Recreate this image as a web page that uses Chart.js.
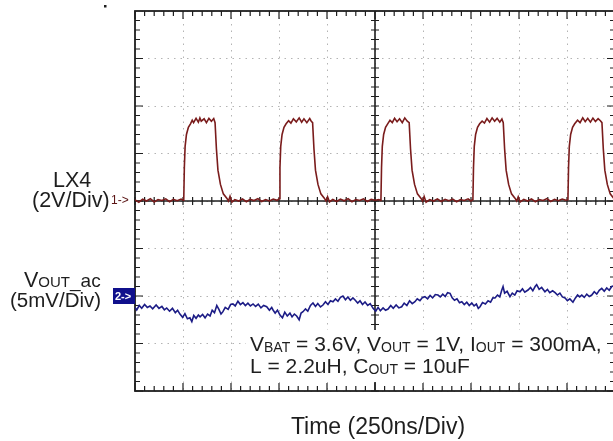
<!DOCTYPE html>
<html>
<head>
<meta charset="utf-8">
<script src="https://cdn.jsdelivr.net/npm/chart.js@4.4.1/dist/chart.umd.min.js"></script>
<style>
  html, body { margin: 0; padding: 0; background: #fff; overflow: hidden; }
  #wrap { width: 613px; height: 441px; overflow: hidden; position: relative; }
  #box { width: 630px; height: 441px; position: absolute; left: 0; top: 0; }
</style>
</head>
<body>
<div id="wrap"><div id="box"><canvas id="scope"></canvas></div></div>
<script>
// time axis: 10 divisions of 250 ns
const timeTicks = [0, 250, 500, 750, 1000, 1250, 1500, 1750, 2000, 2250, 2500];
// CH1 (LX4) axis in volts, 2V/div, 8 divisions
const voltTicks = [-8, -6, -4, -2, 0, 2, 4, 6, 8];
// CH2 (Vout ac) axis in mV, 5mV/div, reference sits 2 div below centre
const mvRange = [-10, 30];

// LX4 switching node, [time ns, volts]
const lx4Trace = [
  [0,0.05],[20,-0.05],[40,0.08],[60,0],[80,0.1],[100,-0.04],[120,0.06],[140,0.02],[160,0.09],[180,-0.03],[200,0.07],[220,0.01],[240,0.08],[252,0.03],
  [254,0.1],[257,1.4],[261,2.3],[268,2.8],[278,3.1],[289,3.25],[298,3.4],[305,3.3],[318,3.48],[330,3.32],[338,3.5],[345,3.36],[360,3.46],[372,3.3],[385,3.48],[398,3.36],[410,3.47],
  [417,3.3],[424,2.2],[432,1.3],[445,0.7],[460,0.3],[478,0.12],[487,0.0],[495,0.2],[505,-0.05],[520,0.06],[540,0.0],[560,0.09],[580,-0.03],[600,0.07],[620,0.02],[640,0.1],[660,-0.02],[680,0.06],[700,0.0],[720,0.08],[740,0.03],
  [752,0.1],[755,1.4],[759,2.3],[766,2.8],[776,3.1],[787,3.25],[800,3.38],[812,3.28],[825,3.46],[840,3.33],[855,3.5],[868,3.32],[880,3.46],[895,3.3],[910,3.47],[918,3.36],
  [925,3.3],[932,2.2],[940,1.3],[953,0.7],[968,0.3],[986,0.12],[995,0.0],[1003,0.18],[1013,-0.04],[1030,0.07],[1050,-0.02],[1070,0.08],[1090,0.01],[1110,0.1],[1130,-0.03],[1150,0.06],[1170,0.02],[1190,0.09],[1210,-0.02],[1230,0.07],[1250,0.03],[1270,0.06],[1279,0.02],
  [1281,0.1],[1284,1.4],[1288,2.3],[1295,2.8],[1305,3.1],[1316,3.25],[1328,3.4],[1340,3.3],[1352,3.48],[1365,3.34],[1378,3.46],[1392,3.3],[1405,3.5],[1418,3.36],
  [1428,3.3],[1435,2.2],[1443,1.3],[1456,0.7],[1471,0.3],[1489,0.12],[1498,0.0],[1506,0.19],[1516,-0.05],[1535,0.06],[1555,0.0],[1575,0.09],[1595,-0.02],[1615,0.07],[1635,0.01],[1655,0.08],[1675,-0.03],[1695,0.06],[1715,0.02],[1735,0.09],[1750,0.0],[1758,0.05],
  [1760,0.1],[1763,1.4],[1767,2.3],[1774,2.8],[1784,3.1],[1795,3.25],[1808,3.36],[1820,3.28],[1833,3.47],[1847,3.32],[1860,3.5],[1873,3.36],[1886,3.48],[1900,3.32],[1911,3.45],
  [1918,3.3],[1925,2.2],[1933,1.3],[1946,0.7],[1961,0.3],[1979,0.12],[1988,0.0],[1996,0.18],[2006,-0.04],[2025,0.07],[2045,0.0],[2065,0.09],[2085,-0.03],[2105,0.06],[2125,0.02],[2145,0.1],[2165,-0.02],[2185,0.07],[2205,0.01],[2225,0.08],[2245,0.03],[2253,0.05],
  [2255,0.1],[2258,1.4],[2262,2.3],[2269,2.8],[2279,3.1],[2290,3.25],[2305,3.4],[2318,3.3],[2332,3.5],[2345,3.34],[2358,3.48],[2372,3.32],[2385,3.49],[2398,3.35],[2412,3.47],[2424,3.38],
  [2432,3.3],[2439,2.2],[2447,1.3],[2460,0.7],[2475,0.3],[2493,0.12],[2500,0.05]
];

// output ripple, [time ns, mV]
const voutTrace = [
  [0,-1.2],[9,-1.47],[22,-1.0],[35,-1.3],[50,-0.9],[64,-1.2],[78,-1.05],[92,-1.35],[110,-0.95],[125,-1.3],[140,-1.1],[153,-1.45],[165,-1.26],[180,-1.6],[195,-1.3],[210,-1.75],[222,-1.5],[234,-1.9],[248,-2.25],[260,-1.85],
  [273,-2.4],[286,-2.3],[296,-2.7],[306,-2.05],[318,-2.35],[330,-2.0],[339,-2.2],[352,-1.95],[365,-2.3],[378,-1.9],[391,-2.1],[402,-1.5],[414,-1.75],[426,-1.0],[437,-1.4],[448,-1.9],[458,-1.65],[470,-1.2],[485,-1.4],[498,-0.9],
  [510,-0.84],[522,-1.05],[536,-0.55],[549,-0.9],[562,-0.7],[575,-1.0],[588,-0.75],[601,-1.05],[615,-0.84],[628,-1.1],[642,-0.85],[656,-1.25],[670,-1.0],[686,-1.13],[700,-1.5],[712,-1.2],[719,-1.47],[730,-1.8],[742,-1.5],[755,-2.0],
  [768,-2.3],[780,-1.7],[793,-2.1],[807,-1.8],[818,-2.2],[830,-1.9],[842,-2.1],[855,-2.5],[865,-1.8],[875,-1.65],[888,-1.35],[900,-1.6],[914,-1.0],[927,-0.74],[940,-1.1],[952,-0.8],[966,-1.15],[979,-0.95],[992,-0.6],[1005,-0.9],
  [1018,-0.5],[1031,-0.6],[1044,-0.3],[1057,-0.55],[1070,-0.15],[1083,0.0],[1096,-0.4],[1109,-0.1],[1122,-0.45],[1135,-0.2],[1146,-0.42],[1160,-0.75],[1172,-0.5],[1185,-0.9],[1198,-0.63],[1212,-1.0],[1225,-0.8],[1240,-1.3],[1254,-1.6],[1266,-1.2],
  [1278,-1.55],[1292,-1.25],[1305,-1.5],[1318,-1.37],[1332,-1.0],[1345,-1.3],[1360,-0.95],[1374,-1.25],[1389,-1.13],[1402,-0.75],[1416,-1.0],[1430,-0.5],[1444,-0.8],[1458,-0.6],[1470,-0.3],[1484,-0.5],[1497,-0.15],[1510,-0.07],[1524,-0.3],[1537,0.05],
  [1550,-0.2],[1564,0.15],[1578,0.1],[1590,-0.1],[1603,0.2],[1616,-0.05],[1628,0.35],[1641,0.28],[1652,-0.2],[1664,-0.45],[1677,-0.3],[1690,-0.7],[1702,-0.6],[1715,-0.9],[1728,-0.65],[1741,-1.0],[1754,-0.74],[1766,-1.05],[1778,-0.85],[1788,-1.3],
  [1797,-1.13],[1810,-0.7],[1825,-0.85],[1839,-0.5],[1852,-0.65],[1864,-0.2],[1875,-0.21],[1888,0.1],[1900,-0.1],[1910,0.6],[1917,1.0],[1925,0.3],[1938,0.5],[1953,-0.07],[1965,0.3],[1978,0.1],[1990,0.55],[2005,0.45],[2018,0.75],[2030,0.4],
  [2047,0.63],[2060,0.9],[2072,0.55],[2084,1.0],[2092,1.2],[2105,0.7],[2118,0.9],[2135,0.45],[2148,0.7],[2160,0.35],[2175,0.55],[2188,0.35],[2200,0.1],[2213,0.3],[2226,-0.1],[2240,-0.21],[2252,-0.5],[2265,-0.3],[2281,-0.65],[2294,-0.2],
  [2305,0.1],[2316,-0.1],[2327,0.1],[2340,-0.15],[2353,0.2],[2366,-0.05],[2379,0.1],[2392,0.45],[2405,0.2],[2418,0.6],[2431,0.8],[2444,0.5],[2457,0.85],[2470,0.6],[2483,1.0],[2500,1.1]
];

const FONT = '"Liberation Sans", Arial, sans-serif';
const INK = '#1e1e1e';

// draws text made of [string, size, dy] pieces on one baseline
function richText(ctx, parts, x, y) {
  let cx = x;
  parts.forEach(p => {
    ctx.font = p[1] + 'px ' + FONT;
    ctx.fillText(p[0], cx, y + (p[2] || 0));
    cx += ctx.measureText(p[0]).width;
  });
}

const scopeFrame = {
  id: 'scopeFrame',
  beforeDatasetsDraw(chart) {
    const ctx = chart.ctx;
    const a = chart.chartArea;
    const xs = chart.scales.x, ys = chart.scales.y;
    const cx = xs.getPixelForValue(1250), cy = ys.getPixelForValue(0);
    ctx.save();
    ctx.strokeStyle = INK;
    // centre cross
    ctx.lineWidth = 1.6;
    ctx.beginPath();
    ctx.moveTo(a.left, cy); ctx.lineTo(a.right, cy);
    ctx.moveTo(cx, a.top); ctx.lineTo(cx, a.bottom);
    ctx.stroke();
    // minor ticks, 5 per division
    ctx.lineWidth = 1.2;
    ctx.beginPath();
    for (let t = 0; t <= 2500; t += 50) {
      const px = xs.getPixelForValue(t);
      const major = t % 250 === 0;
      ctx.moveTo(px, cy - 4); ctx.lineTo(px, cy + 4);
      ctx.moveTo(px, a.top); ctx.lineTo(px, a.top + (major ? 8 : 5));
      ctx.moveTo(px, a.bottom); ctx.lineTo(px, a.bottom - (major ? 8 : 5));
    }
    for (let v = -8; v <= 8; v += 0.4) {
      const py = ys.getPixelForValue(v);
      const major = Math.abs(v / 2 - Math.round(v / 2)) < 0.01;
      ctx.moveTo(cx - 4, py); ctx.lineTo(cx + 4, py);
      ctx.moveTo(a.left, py); ctx.lineTo(a.left + (major ? 8 : 5), py);
      ctx.moveTo(a.right, py); ctx.lineTo(a.right - (major ? 8 : 5), py);
    }
    ctx.stroke();
    // frame
    ctx.lineWidth = 1.8;
    ctx.strokeRect(a.left, a.top, a.right - a.left, a.bottom - a.top);
    // blank panel behind the test-condition note
    ctx.fillStyle = '#fff';
    ctx.fillRect(246, 330, 359, 52);
    ctx.restore();
  },
  afterDraw(chart) {
    const ctx = chart.ctx;
    const y2 = chart.scales.y2;
    const refY = y2.getPixelForValue(0);
    ctx.save();
    ctx.fillStyle = INK;
    ctx.fillRect(104, 5, 2.5, 2.5);
    ctx.textBaseline = 'alphabetic';
    ctx.textAlign = 'left';
    richText(ctx, [['LX4', 21.5]], 53, 187);
    richText(ctx, [['(2V/Div)', 21.5]], 32, 207);
    ctx.fillStyle = '#5a1414';
    richText(ctx, [['1->', 12]], 111, 204);
    // channel 2 marker
    ctx.fillStyle = '#10108c';
    ctx.fillRect(113, refY - 8, 22, 16);
    ctx.fillStyle = '#fff';
    ctx.font = 'bold 11px ' + FONT;
    ctx.fillText('2->', 115, refY + 4);
    ctx.fillStyle = INK;
    richText(ctx, [['V', 21.5], ['OUT', 15], ['_ac', 19]], 24, 287);
    richText(ctx, [['(5mV/Div)', 20.5]], 10, 307);
    richText(ctx, [['V', 21], ['BAT', 14, 1], [' = 3.6V, V', 21], ['OUT', 14, 1], [' = 1V, I', 21], ['OUT', 14, 1], [' = 300mA,', 21]], 250, 351);
    richText(ctx, [['L = 2.2uH, C', 21], ['OUT', 14, 1], [' = 10uF', 21]], 250, 373);
    ctx.textAlign = 'center';
    ctx.font = '23px ' + FONT;
    ctx.fillText('Time (250ns/Div)', 378, 434);
    ctx.restore();
  }
};

const dotGrid = { color: '#b4b4b4', lineWidth: 1, drawTicks: false };

new Chart(document.getElementById('scope'), {
  type: 'line',
  data: {
    datasets: [
      {
        label: 'LX4',
        data: lx4Trace.map(p => ({ x: p[0], y: p[1] })),
        yAxisID: 'y',
        borderColor: '#7a1c1c',
        borderWidth: 1.6,
        pointRadius: 0,
        tension: 0
      },
      {
        label: 'VOUT_ac',
        data: voutTrace.map(p => ({ x: p[0], y: p[1] })),
        yAxisID: 'y2',
        borderColor: '#1c1c86',
        borderWidth: 1.6,
        pointRadius: 0,
        tension: 0
      }
    ]
  },
  options: {
    responsive: true,
    maintainAspectRatio: false,
    animation: false,
    layout: { padding: { left: 135, top: 11, right: 15, bottom: 50 } },
    plugins: { legend: { display: false }, tooltip: { enabled: false } },
    scales: {
      x: {
        type: 'linear',
        min: timeTicks[0],
        max: timeTicks[timeTicks.length - 1],
        afterBuildTicks: s => { s.ticks = timeTicks.map(v => ({ value: v })); },
        ticks: { display: false },
        grid: dotGrid,
        border: { display: false, dash: [1.5, 5] }
      },
      y: {
        min: voltTicks[0],
        max: voltTicks[voltTicks.length - 1],
        afterBuildTicks: s => { s.ticks = voltTicks.map(v => ({ value: v })); },
        ticks: { display: false },
        grid: dotGrid,
        border: { display: false, dash: [1.5, 5] }
      },
      y2: {
        display: false,
        min: mvRange[0],
        max: mvRange[1]
      }
    }
  },
  plugins: [scopeFrame]
});
</script>
</body>
</html>
